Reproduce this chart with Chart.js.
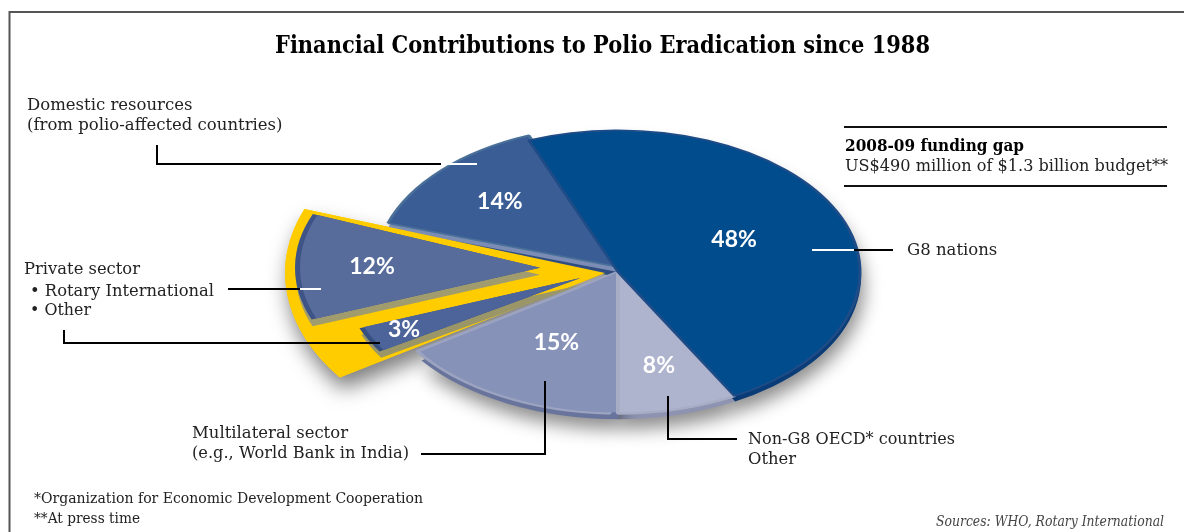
<!DOCTYPE html>
<html>
<head>
<meta charset="utf-8">
<title>Financial Contributions to Polio Eradication since 1988</title>
<script src="https://cdn.jsdelivr.net/npm/chart.js@4/dist/chart.umd.js"></script>
<style>
  html, body { margin: 0; padding: 0; background: #fff; }
  canvas { display: block; }
</style>
</head>
<body>
<canvas id="chart" width="1184" height="532"></canvas>
<script>
// Funding sources, clockwise from the G8 slice, in percent.
const sources = ['G8 nations', 'Non-G8 OECD countries', 'Multilateral sector', 'Private sector: Other', 'Private sector: Rotary International', 'Domestic resources'];
const shares = [48, 8, 15, 3, 12, 14];
const percentLabels = ['48%', '8%', '15%', '3%', '12%', '14%'];
const faceColors = ['#014c8d', '#aeb4cd', '#8692b8', '#4c649a', '#576c9b', '#3a5d96'];
const edgeColors = ['#1f4c86', '#a8adc6', '#9ba3c0', '#5d75a6', '#66799f', '#4a7099'];
const rimColors = ['', '', '', '#36507f', '#3f5486', '#7b8db5'];
const wallColors = ['#0a3c78', '#8d93b0', '#68749c', '#9a9668', '#a09c6e', '#2f4d80'];

const G8 = 0, NON_G8 = 1, MULTILATERAL = 2, OTHER = 3, ROTARY = 4, DOMESTIC = 5;
// The two private-sector slices merged into one wedge for the yellow backing.
const privateShares = [shares[0], shares[1], shares[2], shares[OTHER] + shares[ROTARY], shares[5]];
const highlightColors = ['transparent', 'transparent', 'transparent', '#ffcc00', 'transparent'];

const TILT = 0.585;
const START = -21.6;
const R = 243;

const only = (colors, i) => colors.map((c, k) => (k === i ? c : 'transparent'));
const except = (colors, skip) => colors.map((c, k) => (skip.includes(k) ? 'transparent' : c));
const layer = (order, data, bg, extra) => Object.assign({
  order, data, backgroundColor: bg, borderWidth: 0, rotation: START, clip: false,
  sliceRadius: R, explode: 0, lift: 0
}, extra);

// Lower order paints later, so the list runs from the topmost layer downwards.
const datasets = [
  layer(0, shares, only(faceColors, OTHER), { rotation: START + 4, sliceRadius: 232, explode: 42, lift: -5 }),
  layer(1, shares, only(rimColors, OTHER), { rotation: START + 4, sliceRadius: 237, explode: 42, lift: -5 }),
  layer(2, shares, only(wallColors, OTHER), { rotation: START + 4, sliceRadius: 235, explode: 42, lift: 2 }),
  layer(3, shares, only(faceColors, ROTARY), { rotation: START + 4, sliceRadius: 240, explode: 78, lift: -4 }),
  layer(4, shares, only(rimColors, ROTARY), { rotation: START + 4, sliceRadius: 245, explode: 78, lift: -4 }),
  layer(5, shares, only(wallColors, ROTARY), { rotation: START + 4, sliceRadius: 244, explode: 78, lift: 3 }),
  layer(6, privateShares, highlightColors, { rotation: START + 2, sliceRadius: 320, explode: 13 }),
  layer(7, shares, only(faceColors, G8), {
    borderWidth: 3, borderColor: only(edgeColors, G8), sliceRadius: R - 1
  }),
  layer(8, shares, only(faceColors, NON_G8), {
    borderWidth: 4, borderColor: only(edgeColors, NON_G8), sliceRadius: R - 1
  }),
  layer(9, shares, only(faceColors, MULTILATERAL), { sliceRadius: R - 3 }),
  // Turned slightly so the multilateral wedge closes up against the yellow backing.
  layer(10, shares, only(faceColors, MULTILATERAL), {
    rotation: START + 2, borderWidth: 4, borderColor: only(edgeColors, MULTILATERAL), sliceRadius: R - 1
  }),
  layer(11, shares, only(faceColors, DOMESTIC), {
    borderWidth: 3, borderColor: only(edgeColors, DOMESTIC), sliceRadius: R - 1, lift: -5
  }),
  layer(12, shares, only(rimColors, DOMESTIC), { sliceRadius: R - 1 }),
  layer(13, shares, except(wallColors, [OTHER, ROTARY]), {
    lift: 5, shadow: { color: 'rgba(0,0,0,0.45)', x: 3, y: 10, blur: 18 }
  }),
  layer(14, privateShares, highlightColors, {
    rotation: START + 2, sliceRadius: 320, explode: 13,
    shadow: { color: 'rgba(0,0,0,0.5)', x: 3, y: 12, blur: 20 }
  })
];

// Percent labels: distance from the slice apex as a fraction of its radius, read per slice.
const labelDepth = [0.53, 0.68, 0.565, 0.85, 0.7, 0.67];
const labelLayer = [7, 8, 9, 0, 3, 11];

const SERIF = '"DejaVu Serif"';
const texts = [
  { t: 'Financial Contributions to Polio Eradication since 1988', x: 275, y: 53, w: 655, font: 'bold 25px ' + SERIF, c: '#000' },
  { t: 'Domestic resources', x: 27, y: 110, w: 167 },
  { t: '(from polio-affected countries)', x: 27, y: 130, w: 260 },
  { t: '2008-09 funding gap', x: 845, y: 151, w: 179, font: 'bold 16.5px ' + SERIF, c: '#000' },
  { t: 'US$490 million of $1.3 billion budget**', x: 845, y: 171, w: 323 },
  { t: 'G8 nations', x: 907, y: 255, w: 91 },
  { t: 'Private sector', x: 24, y: 274, w: 116 },
  { t: '\u2022 Rotary International', x: 30, y: 296, w: 184 },
  { t: '\u2022 Other', x: 30, y: 315, w: 61 },
  { t: 'Multilateral sector', x: 192, y: 438, w: 156 },
  { t: '(e.g., World Bank in India)', x: 192, y: 458, w: 217 },
  { t: 'Non-G8 OECD* countries', x: 748, y: 444, w: 207 },
  { t: 'Other', x: 748, y: 464, w: 48 },
  { t: '*Organization for Economic Development Cooperation', x: 34, y: 503, w: 389, font: '14.5px ' + SERIF },
  { t: '**At press time', x: 34, y: 523, w: 106, font: '14.5px ' + SERIF },
  { t: 'Sources: WHO, Rotary International', x: 936, y: 526, w: 228, font: 'italic 14px ' + SERIF, c: '#444' }
];

const leaders = [
  { pts: [[157, 145], [157, 164], [441, 164]], c: '#000' },
  { pts: [[441, 164], [477, 164]], c: '#fff' },
  { pts: [[812, 250], [854, 250]], c: '#fff' },
  { pts: [[854, 250], [893, 250]], c: '#000' },
  { pts: [[228, 289], [300, 289]], c: '#000' },
  { pts: [[300, 289], [321, 289]], c: '#fff' },
  { pts: [[64, 330], [64, 343], [380, 343]], c: '#000' },
  { pts: [[545, 381], [545, 454], [421, 454]], c: '#000' },
  { pts: [[668, 396], [668, 439], [737, 439]], c: '#000' }
];

const rules = [
  { pts: [[9.5, 532], [9.5, 12], [1184, 12]], c: '#555', w: 2 },
  { pts: [[844, 127], [1167, 127]], c: '#111', w: 2 },
  { pts: [[844, 186], [1167, 186]], c: '#111', w: 2 }
];

function stroke(ctx, pts, color, width) {
  ctx.beginPath();
  pts.forEach((p, i) => (i ? ctx.lineTo(p[0], p[1]) : ctx.moveTo(p[0], p[1])));
  ctx.strokeStyle = color;
  ctx.lineWidth = width;
  ctx.stroke();
}

// Lays every dataset over the same circle instead of nesting rings, and pulls
// exploded layers away from the centre along the middle of their slice.
const stackedLayers = {
  id: 'stackedLayers',
  afterDatasetUpdate(chart, { index, meta }) {
    const ds = chart.data.datasets[index];
    meta.data.forEach(arc => {
      arc.innerRadius = 0;
      arc.outerRadius = ds.sliceRadius;
    });
    if (ds.explode) {
      const visible = ds.backgroundColor.findIndex(c => c !== 'transparent');
      const arc = meta.data[visible];
      const mid = (arc.startAngle + arc.endAngle) / 2;
      const dx = Math.cos(mid) * ds.explode, dy = Math.sin(mid) * ds.explode;
      meta.data.forEach(a => { a.x += dx; a.y += dy; });
    }
  },
  beforeDatasetDraw(chart, { index }) {
    const ds = chart.data.datasets[index];
    const ctx = chart.ctx;
    const area = chart.chartArea;
    const cy = (area.top + area.bottom) / 2;
    ctx.save();
    if (ds.shadow) {
      ctx.shadowColor = ds.shadow.color;
      ctx.shadowOffsetX = ds.shadow.x;
      ctx.shadowOffsetY = ds.shadow.y;
      ctx.shadowBlur = ds.shadow.blur;
    }
    ctx.translate(0, cy + ds.lift);
    ctx.scale(1, TILT);
    ctx.translate(0, -cy);
  },
  afterDatasetDraw(chart) {
    chart.ctx.restore();
  },
  afterDraw(chart) {
    const ctx = chart.ctx;
    const area = chart.chartArea;
    const cy = (area.top + area.bottom) / 2;
    ctx.save();
    rules.forEach(r => stroke(ctx, r.pts, r.c, r.w));
    leaders.forEach(l => stroke(ctx, l.pts, l.c, 2));

    ctx.textBaseline = 'middle';
    ctx.textAlign = 'center';
    ctx.font = 'bold 23px Lato';
    ctx.fillStyle = '#fff';
    percentLabels.forEach((label, i) => {
      const ds = chart.data.datasets[labelLayer[i]];
      const arc = chart.getDatasetMeta(labelLayer[i]).data[i];
      const mid = (arc.startAngle + arc.endAngle) / 2;
      const r = ds.sliceRadius * labelDepth[i];
      const x = arc.x + Math.cos(mid) * r;
      const y = cy + ds.lift + (arc.y + Math.sin(mid) * r - cy) * TILT;
      ctx.fillText(label, x, y);
    });

    ctx.textBaseline = 'alphabetic';
    ctx.textAlign = 'left';
    texts.forEach(item => {
      ctx.font = item.font || ('16.5px ' + SERIF);
      ctx.fillStyle = item.c || '#222';
      ctx.fillText(item.t, item.x, item.y, item.w);
    });
    ctx.restore();
  }
};

new Chart(document.getElementById('chart'), {
  type: 'pie',
  data: { labels: sources, datasets },
  plugins: [stackedLayers],
  options: {
    responsive: false,
    animation: false,
    events: [],
    layout: { padding: { left: 52, right: 0, top: 12, bottom: 0 } },
    plugins: { legend: { display: false }, tooltip: { enabled: false }, title: { display: false } }
  }
});
</script>
</body>
</html>
